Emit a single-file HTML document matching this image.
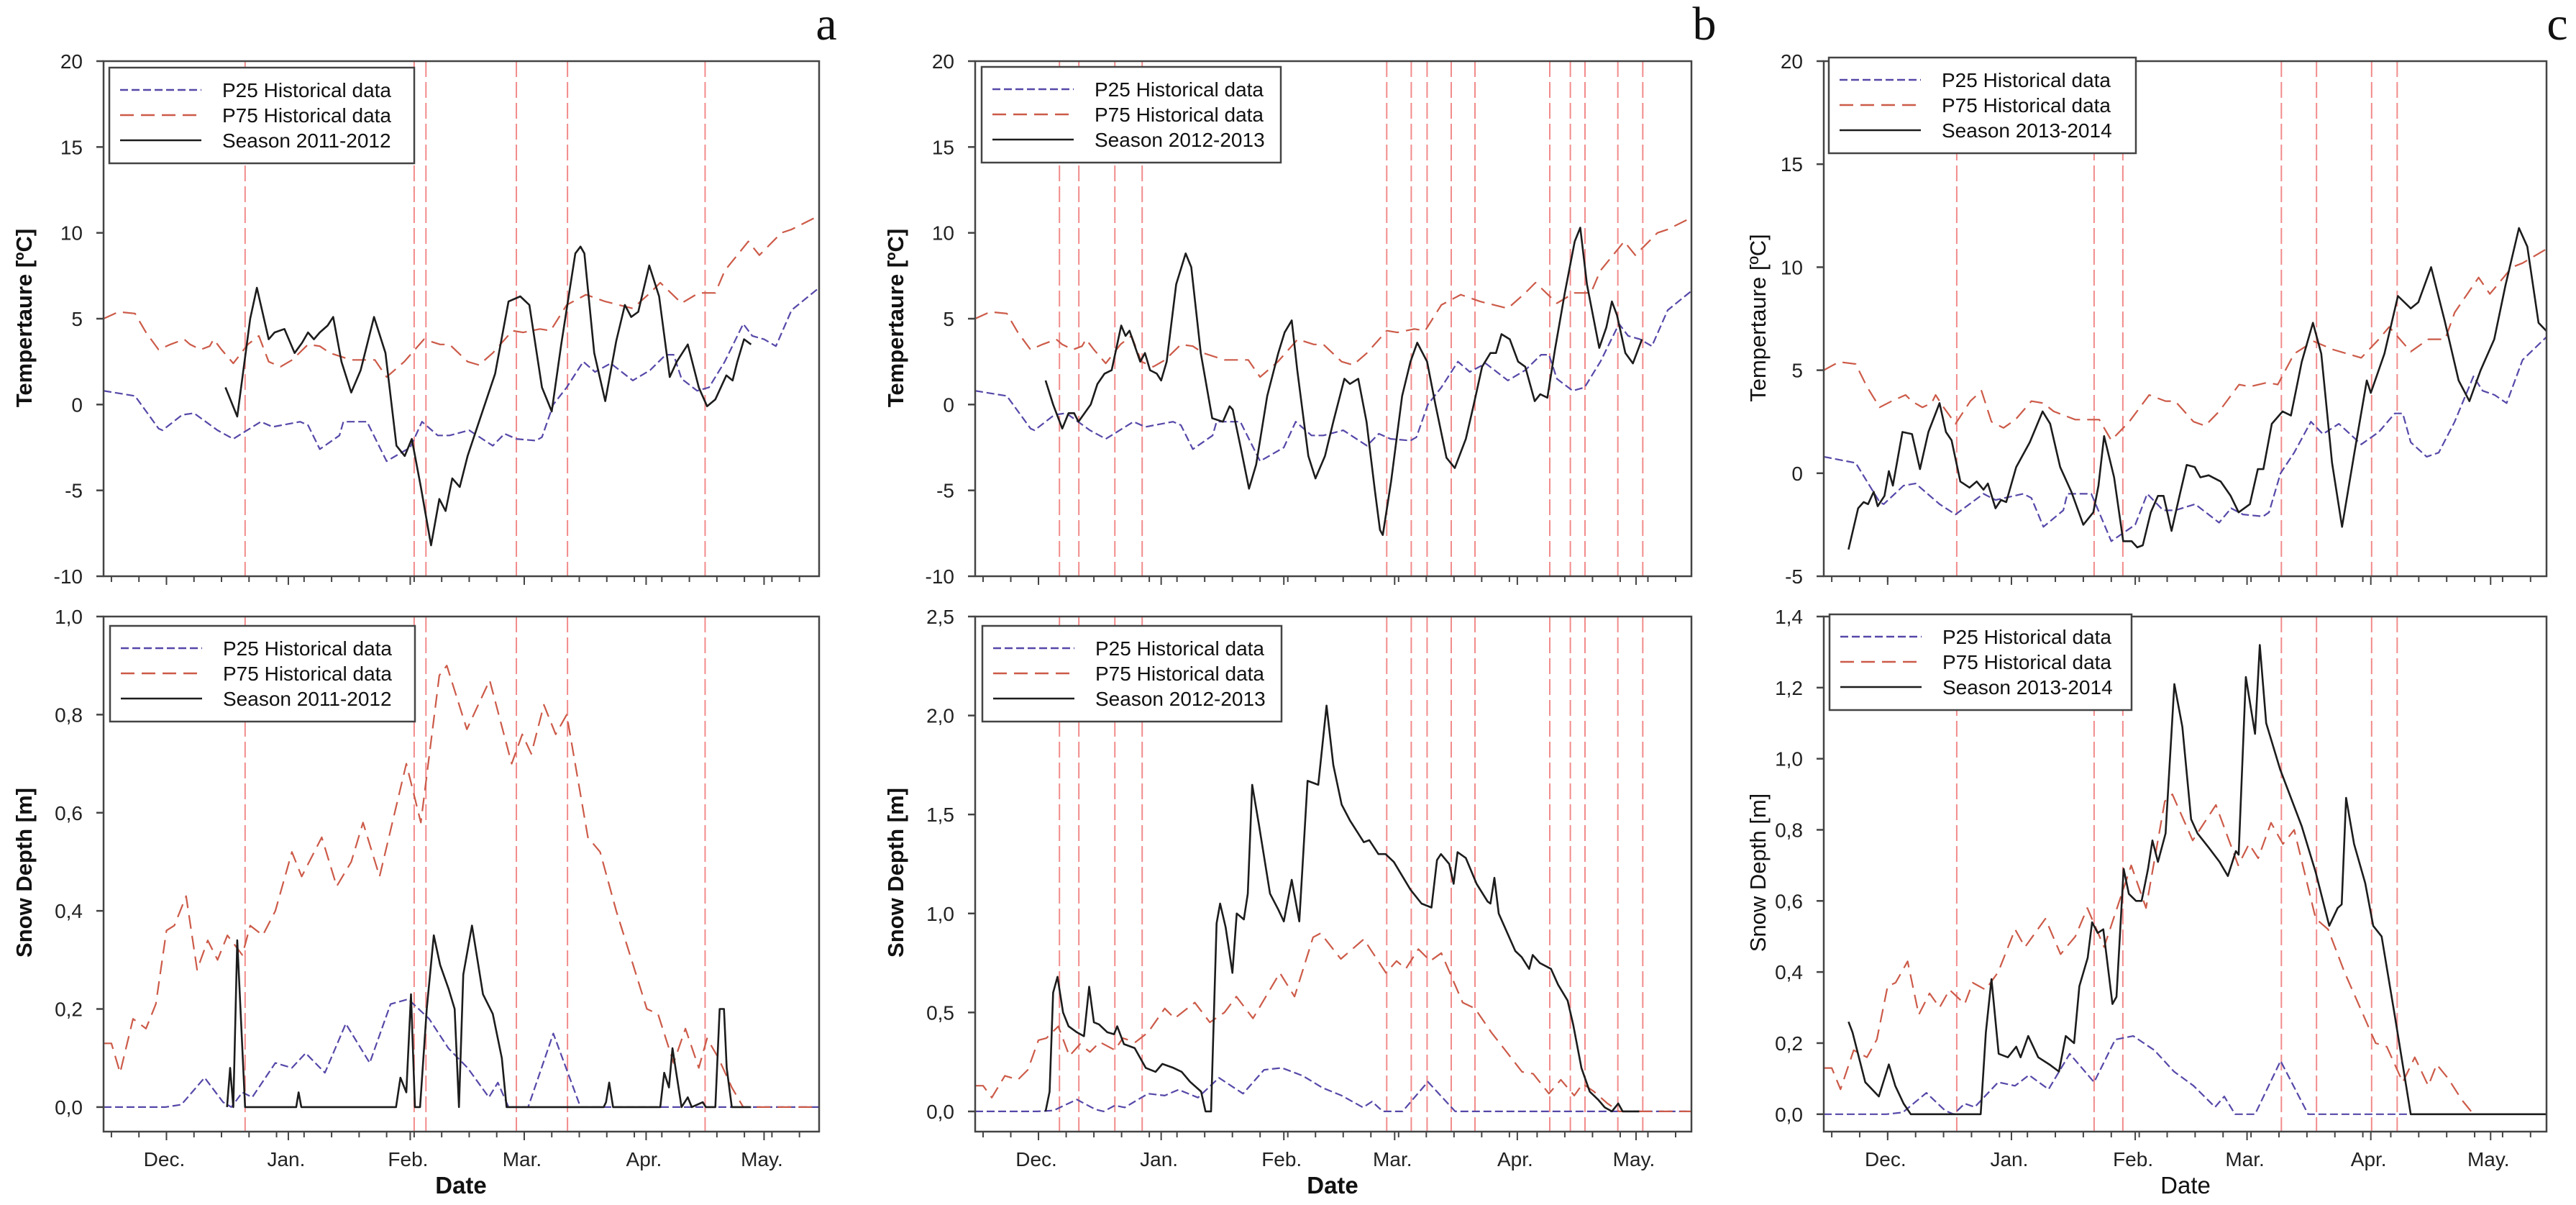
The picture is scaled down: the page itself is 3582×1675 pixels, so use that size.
<!DOCTYPE html>
<html><head><meta charset="utf-8"><style>
html,body{margin:0;padding:0;background:#fff;}
svg{display:block;font-family:"Liberation Sans",Arial,sans-serif;}
</style></head><body>
<svg id="fig" width="3582" height="1675" viewBox="0 0 3582 1675" xmlns="http://www.w3.org/2000/svg"></svg>
<script>
// ---- Historical climatology (day index: 0 = 15 Nov) ----
const p25TempDays=[0,8,14,15,20,23,29,33,40,43,50,52,55,60,61,67,72,78,81,85,88,93,99,102,105,110,111.5,114.4,117.8,122,125,129,134.6,139,143,145,147,151,154,158,162.7,165,168,171,175,182];
const p25TempVals=[0.8,0.5,-1.4,-1.5,-0.6,-0.5,-1.5,-2.0,-1.0,-1.3,-1.0,-1.2,-2.6,-1.8,-1.0,-1.0,-3.3,-2.5,-1.0,-1.8,-1.8,-1.5,-2.4,-1.7,-2.0,-2.1,-1.9,0,1.0,2.5,1.9,2.4,1.4,2.0,2.9,2.9,1.5,0.8,1.0,2.5,4.7,4.0,3.8,3.4,5.5,6.8];
const p75TempDays=[0,3.8,8,10.8,14,17,20.5,22,24.7,27,28,30,33,36.7,39.5,42,45,48,52,55,57.6,63,69,72,76.5,81.5,85.6,88,92.6,95.5,99,104,106.7,111,113.7,117.8,122.7,127.6,134.6,139,141.6,147,151.4,155.6,158,164,166.8,172.4,175,182];
const p75TempVals=[5.0,5.4,5.3,4.2,3.2,3.5,3.8,3.5,3.2,3.4,3.8,3.2,2.4,3.5,4.0,2.5,2.2,2.6,3.5,3.4,3.0,2.6,2.6,1.6,2.5,3.8,3.5,3.5,2.5,2.3,3.0,4.3,4.2,4.4,4.3,5.8,6.4,6.0,5.6,6.5,7.1,5.9,6.5,6.5,7.8,9.5,8.7,10.0,10.2,11.0];
const p25SnowDays=[0,15.7,19.8,25.7,30.4,32.5,35.3,37.8,43.7,47.9,51.4,56.3,61.6,67.7,73,77.5,82.8,87.7,92.6,98,100.3,103,108,114.4,121.3,182];
const p25SnowVals=[0,0,0.005,0.06,0.01,0,0.03,0.02,0.09,0.08,0.11,0.07,0.17,0.09,0.21,0.22,0.18,0.12,0.08,0.02,0.05,0,0,0.15,0,0];
const p75SnowDays=[0,2,4.2,7.5,10.8,13.3,16,18,21,23.8,26.5,29,31.5,35.3,37.3,40.5,43.7,47.9,50.4,55.5,59.3,63,66,70.2,77,80.7,85.4,87.3,92.4,98.2,103.8,106.5,108.8,112,115,117.8,123.2,126.3,130.4,138.2,141,145,148,151.4,153.5,156.4,159.8,162.7,182];
const p75SnowVals=[0.13,0.13,0.07,0.18,0.16,0.21,0.36,0.37,0.43,0.28,0.34,0.30,0.35,0.31,0.37,0.35,0.40,0.52,0.47,0.55,0.45,0.50,0.58,0.47,0.70,0.58,0.88,0.90,0.77,0.87,0.70,0.76,0.72,0.82,0.76,0.80,0.55,0.52,0.40,0.20,0.19,0.09,0.16,0.08,0.14,0.10,0.04,0,0];
// ---- Season 2011-2012 ----
const sA_TempDays=[31,34,37.3,39,42,43.5,46,48.6,50.5,52,53.5,55,57,58.4,60.5,63,65.4,68.8,71.7,74.5,76.6,78.4,80.7,83.3,85.4,87,88.7,90.6,92.6,95.5,99.6,103,106,108.3,111.5,114,116.4,120,121.3,122.3,124.8,127.6,130.4,132.6,134.2,136,138.8,141.3,144,145.8,148.6,151.4,153.5,155.6,158.4,160,161.2,162.9,164.7];
const sA_TempVals=[1.0,-0.7,5.0,6.8,3.8,4.2,4.4,3.0,3.6,4.2,3.8,4.2,4.6,5.1,2.5,0.7,2.0,5.1,3.0,-2.4,-3.0,-2.0,-4.8,-8.2,-5.5,-6.2,-4.3,-4.8,-3.0,-1.0,1.8,6.0,6.3,5.8,1.0,-0.4,3.5,8.8,9.2,8.8,3.0,0.2,3.7,5.8,5.1,5.4,8.1,6.3,1.6,2.5,3.5,1.0,-0.1,0.3,1.7,1.4,2.5,3.8,3.5];
const sA_SnowDays=[31.4,32.2,33,34,36,49,49.6,50.3,74.4,75.5,77,78.2,79.2,80.5,82.2,84,85.6,87.8,89.3,90.4,91.5,93.7,96.5,99,101.3,102.5,127.2,127.8,128.6,129.6,141.6,142.6,143.8,144.7,147,148.6,149.6,152.4,153.2,155.6,156.7,157.8,158.5,159.8,164.7];
const sA_SnowVals=[0,0.08,0,0.34,0,0,0.03,0,0,0.06,0.03,0.23,0,0,0.2,0.35,0.29,0.24,0.2,0,0.27,0.37,0.23,0.19,0.1,0,0,0.01,0.05,0,0,0.07,0.04,0.12,0,0.02,0,0.01,0,0,0.2,0.2,0.08,0,0];
const sA_Events=[36,79,82,105,118,153];
// ---- Season 2012-2013 ----
const sB_TempDays=[17.8,19.7,22,23.6,25,26.1,29.2,30.9,32.7,34.5,36.9,38,39,41.7,42.9,44.2,45.9,47,48.4,50.8,53.2,54.6,57,59.9,62.6,64.3,65.1,67.1,69.2,71,73.8,76.6,78.2,80,81.4,84.2,86,88.4,90.5,93.3,94.7,96.8,98.9,101,102.3,103,105.1,107.9,110,111.7,114.2,116.3,119.1,121.2,124,126,128.1,130.2,131.6,133,135.1,137.2,139,141.4,142.8,144.6,146.5,149,151.5,152.9,154.6,157.7,159.5,160.9,162.2,164.3,166.2,168.5];
const sB_TempVals=[1.4,0,-1.4,-0.5,-0.5,-1.0,0,1.2,1.8,2.0,4.6,4.0,4.3,2.5,3.0,2.0,1.8,1.4,2.5,7.0,8.8,8.0,3.0,-0.8,-1.0,-0.1,-0.3,-2.5,-4.9,-3.5,0.5,3.0,4.2,4.9,2.0,-3.0,-4.3,-3.0,-1.0,1.5,1.2,1.5,-1.0,-5.0,-7.3,-7.6,-4.5,0.5,2.5,3.6,2.5,0,-3.1,-3.7,-2.0,0,2.2,3.0,3.0,4.1,3.8,2.5,2.2,0.2,0.6,0.4,3.2,6.5,9.5,10.3,7.0,3.3,4.5,6.0,5.2,3.0,2.4,3.8];
const sB_SnowDays=[17.8,18.8,19.7,20.8,22.2,23.6,25.7,27.5,28.8,30,31.3,33.4,35.1,35.9,37.6,40.3,43.1,45.6,47.3,50.1,52.2,54.3,57.1,58.2,59.6,61,61.9,63.3,65,66.1,67.9,68.9,70,71.7,74.5,76.6,78,80,81.9,84,86.7,88.8,90.5,92.6,94.7,98.2,99.6,101.9,103.7,105.8,110,112.8,115.3,116.7,117.7,119.8,120.9,121.9,124,126.7,129.5,130.2,131.2,132.3,136.5,138.1,140,140.9,142.7,145.5,147.3,149.7,151.1,153.2,155.3,157.4,159.1,160.9,162.5,163.6,167.8];
const sB_SnowVals=[0,0.1,0.6,0.68,0.5,0.43,0.4,0.38,0.63,0.45,0.44,0.4,0.39,0.43,0.34,0.32,0.22,0.2,0.24,0.22,0.2,0.15,0.1,0,0,0.95,1.05,0.93,0.7,1.0,0.97,1.1,1.65,1.45,1.1,1.02,0.96,1.17,0.96,1.67,1.65,2.05,1.75,1.55,1.47,1.36,1.37,1.30,1.30,1.26,1.12,1.05,1.03,1.27,1.3,1.25,1.15,1.31,1.28,1.15,1.06,1.05,1.18,1.0,0.81,0.78,0.72,0.79,0.75,0.72,0.64,0.56,0.44,0.22,0.1,0.06,0.02,0,0.04,0,0];
const sB_Events=[21.3,26.2,35.3,42.2,104,110.2,114.2,120.3,126.3,145.2,150.4,154.1,162.4,168.7];
// ---- Season 2013-2014 ----
const sC_TempDays=[6.2,8.6,10,11.1,12.5,13.5,15.2,16.3,17.3,19.7,22.1,24.1,26.2,29,30.6,32,34.2,36.5,38.3,40,41.1,43,44.4,45.7,48.2,51.6,54.8,56.7,59.2,62,65,67.5,68.8,70.2,72.7,75,77.1,78.5,79.9,81.9,83.7,85.1,87.1,89.2,90.9,92.9,94.3,96.4,99.4,101.9,103.9,106.7,108.7,110.1,112.2,114.9,117,119.7,122.5,124.6,127.3,129.8,132.8,136,137,140.4,143.8,147,148.9,152.1,155.5,159,161.7,164.5,167.9,170.7,174.1,176.2,179,181];
const sC_TempVals=[-3.7,-1.7,-1.4,-1.5,-0.9,-1.6,-1.1,0.1,-0.6,2.0,1.9,0.2,2.0,3.4,2.0,1.6,-0.4,-0.7,-0.4,-0.8,-0.5,-1.7,-1.3,-1.4,0.3,1.5,3.0,2.4,0.3,-0.9,-2.5,-1.9,-0.6,1.8,-0.2,-3.3,-3.3,-3.6,-3.5,-1.9,-1.1,-1.1,-2.8,-1.0,0.4,0.3,-0.2,-0.1,-0.4,-1.1,-1.9,-1.5,0.2,0.2,2.4,3.0,2.8,5.4,7.3,5.8,0.5,-2.6,0.9,4.5,3.9,5.8,8.6,8.0,8.3,10.0,7.4,4.5,3.5,5.0,6.5,9.1,11.9,11.0,7.3,6.9];
const sC_SnowDays=[6.2,7.2,10.4,13.8,16.3,17.9,20,21.8,39.3,40.6,42,43.8,46.1,48.2,49.3,51.2,53.7,56.5,58.9,60.6,62.7,64,66.1,67.2,68.6,70,72.3,73.3,75.1,76.4,78.2,79.6,81.2,82.3,83.7,85.6,87.8,89.8,92,93.6,96.4,99.1,101.2,103.2,103.9,105.7,108,109.2,110.8,114.3,119.7,123.2,126.6,128.7,129.7,130.8,132.8,135.6,137.6,139.7,143.1,147,181];
const sC_SnowVals=[0.26,0.23,0.09,0.05,0.14,0.08,0.03,0,0,0.23,0.38,0.17,0.16,0.19,0.16,0.22,0.16,0.14,0.12,0.22,0.2,0.36,0.44,0.54,0.51,0.52,0.31,0.33,0.69,0.62,0.6,0.6,0.69,0.77,0.71,0.79,1.21,1.09,0.83,0.79,0.75,0.71,0.67,0.74,0.73,1.23,1.07,1.32,1.1,0.97,0.81,0.68,0.53,0.58,0.59,0.89,0.76,0.65,0.53,0.5,0.27,0,0];
const sC_Events=[33.3,67.7,74.9,114.6,123.4,137.2,143.6];
// ---- Axis ticks ----
const tempTicksAB=[-10,-5,0,5,10,15,20];
const tempTicksC=[-5,0,5,10,15,20];
const snowTicksA=[0,0.2,0.4,0.6,0.8,1.0];
const snowTicksB=[0,0.5,1.0,1.5,2.0,2.5];
const snowTicksC=[0,0.2,0.4,0.6,0.8,1.0,1.2,1.4];
const monthLabels=["Dec.","Jan.","Feb.","Mar.","Apr.","May."];
const monthStartsLeap=[16,47,78,107,138,168];
const monthStartsNorm=[16,47,78,106,137,167];

const NS="http://www.w3.org/2000/svg";
const svg=document.getElementById('fig');
function mk(tag,attrs,parent){const e=document.createElementNS(NS,tag);for(const k in attrs)e.setAttribute(k,attrs[k]);(parent||svg).appendChild(e);return e;}

const T_TOP=85,T_BOT=801,S_TOP=857,S_BOT=1573;

function drawPlot(P,kind){
  const g=mk('g',{});
  
  
  const top=kind==='temp'?T_TOP:S_TOP, bot=kind==='temp'?T_BOT:S_BOT;
  const dom=kind==='temp'?P.tDom:P.sDom;
  const ticks=kind==='temp'?P.tTicks:P.sTicks;
  const X=d=>P.left+(d/P.D)*(P.right-P.left);
  const Y=v=>bot-(v-dom[0])/(dom[1]-dom[0])*(bot-top);
  const cid='clip-'+P.name+'-'+kind;
  const cp=mk('clipPath',{id:cid},g);mk('rect',{x:P.left,y:top,width:P.right-P.left,height:bot-top},cp);
  P.events.forEach(d=>{const l=mk('line',{x1:X(d),x2:X(d),y1:top,y2:bot,stroke:'#f28b8b','stroke-width':2,'stroke-dasharray':'22 7'},g);
    
    });
  const series=(days,vals,color,w,dash,name)=>{
    let d='';days.forEach((t,i)=>{d+=(i?'L':'M')+X(t).toFixed(1)+' '+Y(vals[i]).toFixed(1);});
    const p=mk('path',{d:d,fill:'none',stroke:color,'stroke-width':w,'stroke-linejoin':'round','clip-path':'url(#'+cid+')'},g);
    if(dash)p.setAttribute('stroke-dasharray',dash);
    
    
  };
  if(kind==='temp'){
    series(p25TempDays,p25TempVals,'#5548a8',2.2,'11 5','p25-line');
    series(p75TempDays,p75TempVals,'#cc5a48',2.2,'19 10','p75-line');
    series(P.tD,P.tV,'#1c1c1c',2.6,null,'season-line');
  } else {
    series(p25SnowDays,p25SnowVals,'#5548a8',2.2,'11 5','p25-line');
    series(p75SnowDays,p75SnowVals,'#cc5a48',2.2,'19 10','p75-line');
    series(P.sD,P.sV,'#1c1c1c',2.6,null,'season-line');
  }
  const fr=mk('rect',{x:P.left,y:top,width:P.right-P.left,height:bot-top,fill:'none',stroke:'#444','stroke-width':2.5},g);
  
  
  ticks.forEach(v=>{const y=Y(v);mk('line',{x1:P.left-10,x2:P.left,y1:y,y2:y,stroke:'#444','stroke-width':2.5},g);
    const t=mk('text',{x:P.left-29,y:y+10,'text-anchor':'end','font-size':28,fill:'#222'},g);
    t.textContent=(kind==='temp'?String(v):v.toFixed(1).replace('.',','));
    
    });
  // weekly minor ticks anchored at 1 Dec
  for(let d=P.months[0]-14;d<P.D;d+=7){if(d<=0)continue;mk('line',{x1:X(d),x2:X(d),y1:bot,y2:bot+8,stroke:'#444','stroke-width':2},g);}
  P.months.forEach((m,i)=>{mk('line',{x1:X(m),x2:X(m),y1:bot,y2:bot+12,stroke:'#444','stroke-width':2},g);
    if(kind==='snow'){const t=mk('text',{x:X(m)-3,y:1621,'text-anchor':'middle','font-size':28,fill:'#222'},g);t.textContent=monthLabels[i];
      
      }
  });
  const cy=kind==='temp'?442:1213;
  const yt=mk('text',{x:P.ytx,y:cy,transform:'rotate(-90 '+P.ytx+' '+cy+')','text-anchor':'middle','font-size':31,'font-weight':P.bold?'bold':'normal',fill:'#111'},g);
  yt.textContent=kind==='temp'?'Tempertaure [ºC]':'Snow Depth [m]';
  
  
  if(kind==='snow'){const dt=mk('text',{x:P.datex,y:1659,'text-anchor':'middle','font-size':33,'font-weight':P.bold?'bold':'normal',fill:'#111'},g);dt.textContent='Date';
    
    }
  const L=kind==='temp'?P.legT:P.legS;
  const lg=mk('g',{},g);
  
  
  mk('rect',{x:L[0],y:L[1],width:L[2],height:133,fill:'#fff',stroke:'#444','stroke-width':2.5},lg);
  const rows=[['P25 Historical data','#5548a8','11 5'],['P75 Historical data','#cc5a48','19 10'],['Season '+P.season,'#1c1c1c',null]];
  rows.forEach((r,i)=>{const y=L[1]+31+i*35;
    const ln=mk('line',{x1:L[0]+15,x2:L[0]+128,y1:y,y2:y,stroke:r[1],'stroke-width':2.4},lg);if(r[2])ln.setAttribute('stroke-dasharray',r[2]);
    const t=mk('text',{x:L[0]+157,y:y+10,'font-size':28,fill:'#111'},lg);t.textContent=r[0];
    
    });
}

const panels=[
 {name:'panel-a',left:144,right:1139,D:182,months:monthStartsLeap,tDom:[-10,20],tTicks:tempTicksAB,sDom:[-0.05,1.0],sTicks:snowTicksA,
  tD:sA_TempDays,tV:sA_TempVals,sD:sA_SnowDays,sV:sA_SnowVals,events:sA_Events,season:'2011-2012',ytx:44,datex:641,bold:true,
  legT:[152,94,424],legS:[153,870,424],letter:'a',lx:1149},
 {name:'panel-b',left:1356,right:2352,D:181,months:monthStartsNorm,tDom:[-10,20],tTicks:tempTicksAB,sDom:[-0.102,2.5],sTicks:snowTicksB,
  tD:sB_TempDays,tV:sB_TempVals,sD:sB_SnowDays,sV:sB_SnowVals,events:sB_Events,season:'2012-2013',ytx:1256,datex:1853,bold:true,
  legT:[1365,93,416],legS:[1366,870,416],letter:'b',lx:2370},
 {name:'panel-c',left:2536,right:3541,D:181,months:monthStartsNorm,tDom:[-5,20],tTicks:tempTicksC,sDom:[-0.049,1.4],sTicks:snowTicksC,
  tD:sC_TempDays,tV:sC_TempVals,sD:sC_SnowDays,sV:sC_SnowVals,events:sC_Events,season:'2013-2014',ytx:2455,datex:3039,bold:false,
  legT:[2543,80,427],legS:[2544,854,420],letter:'c',lx:3556}
];
panels.forEach(P=>{
  drawPlot(P,'temp');drawPlot(P,'snow');
  const t=mk('text',{x:P.lx,y:55,'text-anchor':'middle','font-size':66,'font-family':'"Liberation Serif",serif',fill:'#111'});
  t.textContent=P.letter;
  
  
});
</script>
</body></html>
